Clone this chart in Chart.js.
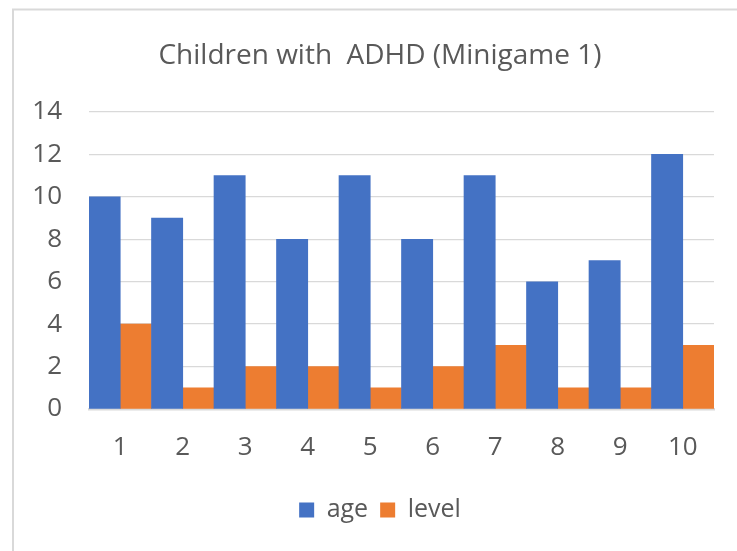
<!DOCTYPE html>
<html><head><meta charset="utf-8">
<script src="https://cdn.jsdelivr.net/npm/chart.js@4/dist/chart.umd.min.js"></script>
<style>html,body{margin:0;padding:0;background:#fff;}canvas{display:block;}</style>
</head><body>
<canvas id="c" width="737" height="551"></canvas>
<script>
const categories = ["1","2","3","4","5","6","7","8","9","10"];
const ageValues = [10, 9, 11, 8, 11, 8, 11, 6, 7, 12];
const levelValues = [4, 1, 2, 2, 1, 2, 3, 1, 1, 3];
const seriesNames = ["age", "level"];
const chartTitle = "Children with  ADHD (Minigame 1)";

const FONT = "'Open Sans', sans-serif";
const TXT = "#595959";

const frame = {
  id: 'frame',
  beforeDraw(chart) {
    const ctx = chart.ctx;
    ctx.save();
    ctx.fillStyle = '#fff';
    ctx.fillRect(0, 0, chart.width, chart.height);
    ctx.strokeStyle = '#D9D9D9';
    ctx.lineWidth = 2;
    ctx.strokeRect(13, 9.5, 900, 700);
    ctx.restore();
  }
};

new Chart(document.getElementById('c'), {
  type: 'bar',
  data: {
    labels: categories,
    datasets: [
      { label: seriesNames[0], data: ageValues, backgroundColor: '#4472C4', borderWidth: 0, barPercentage: 1, categoryPercentage: 1 },
      { label: seriesNames[1], data: levelValues, backgroundColor: '#ED7D31', borderWidth: 0, barPercentage: 1, categoryPercentage: 1 }
    ]
  },
  options: {
    responsive: false,
    maintainAspectRatio: false,
    animation: false,
    layout: { padding: { left: 24, right: 1, top: 0, bottom: 18.5 } },
    plugins: {
      title: {
        display: true, text: chartTitle, color: TXT,
        font: { family: FONT, size: 28, weight: 'normal' },
        padding: { top: 39.2, bottom: 39.2 }
      },
      legend: {
        position: 'bottom',
        labels: { color: TXT, font: { family: FONT, size: 25 }, boxWidth: 15, boxHeight: 15, padding: 12 }
      },
      tooltip: { enabled: false }
    },
    scales: {
      x: {
        grid: { display: false, drawTicks: false },
        border: { display: true, color: '#D9D9D9', width: 2.5 },
        ticks: { color: TXT, font: { family: FONT, size: 26 }, padding: 23 },
        afterFit(s) { s.height = 76.5; }
      },
      y: {
        min: 0, max: 14,
        ticks: { stepSize: 2, color: TXT, font: { family: FONT, size: 26 }, padding: 27 },
        grid: { color: '#D9D9D9', lineWidth: 1.3, drawTicks: false },
        border: { display: false },
        afterFit(s) { s.width = 65; }
      },
      y2: {
        position: 'right',
        display: true,
        grid: { display: false, drawTicks: false },
        border: { display: false },
        ticks: { display: false },
        afterFit(s) { s.width = 22; }
      }
    }
  },
  plugins: [frame]
});
</script>
</body></html>
